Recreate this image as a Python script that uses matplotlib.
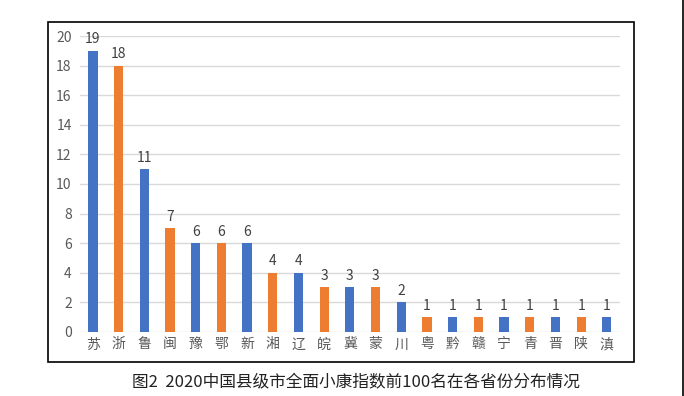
import matplotlib.pyplot as plt
from matplotlib.patches import Rectangle
from matplotlib.lines import Line2D

plt.rcParams['font.family'] = ['Noto Sans CJK SC', 'DejaVu Sans']

provinces = ['苏', '浙', '鲁', '闽', '豫', '鄂', '新', '湘', '辽', '皖', '冀',
             '蒙', '川', '粤', '黔', '赣', '宁', '青', '晋', '陕', '滇']
counts = [19, 18, 11, 7, 6, 6, 6, 4, 4, 3, 3, 3, 2, 1, 1, 1, 1, 1, 1, 1, 1]

blue = '#4472C4'
orange = '#ED7D31'
colors = [blue if i % 2 == 0 else orange for i in range(len(counts))]

fig = plt.figure(figsize=(6.84, 3.96), dpi=100)
ax = fig.add_axes([0.117, 0.162, 0.789, 0.747])

x = range(len(counts))
bars = ax.bar(x, counts, width=0.36, color=colors, zorder=3)
for b, v in zip(bars, counts):
    ax.text(b.get_x() + b.get_width() / 2, v + 0.3, str(v),
            ha='center', va='bottom', fontsize=10, color='#404040')

ax.set_xlim(-0.5, len(counts) - 0.5)
ax.set_ylim(0, 20)
ax.set_yticks(range(0, 21, 2))
ax.set_xticks(list(x))
ax.set_xticklabels(provinces)
ax.tick_params(axis='both', length=0, labelsize=10, colors='#595959')
ax.tick_params(axis='x', pad=4)
ax.tick_params(axis='y', pad=6)
ax.yaxis.grid(True, color='#D9D9D9', linewidth=1, zorder=0)
for s in ax.spines.values():
    s.set_visible(False)

# chart border
fig.patches.append(Rectangle((0.0702, 0.0859), 0.857, 0.859, transform=fig.transFigure,
                             fill=False, edgecolor='black', linewidth=1.2))
fig.lines.append(Line2D([0.9985, 0.9985], [0, 1], transform=fig.transFigure,
                        color='black', linewidth=1.2))

fig.text(0.52, 0.033, '图2  2020中国县级市全面小康指数前100名在各省份分布情况',
         ha='center', va='center', fontsize=12, color='#222222')

fig.savefig('out.png', dpi=100)
